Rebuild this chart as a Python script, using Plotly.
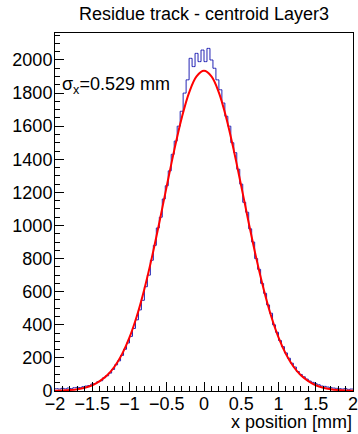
import plotly.graph_objects as go

# Histogram: 100 bins from -2 to 2 mm (bin width 0.04)
bin_lo = -2.0
bin_width = 0.04
counts = [
    14, 12, 16, 13, 18, 15, 20, 22, 21, 26,
    30, 33, 42, 45, 56, 62, 80, 92, 108, 130,
    158, 182, 215, 252, 290, 330, 378, 430, 490, 548,
    630, 700, 790, 880, 985, 1050, 1160, 1240, 1330, 1430,
    1510, 1600, 1690, 1800, 1880, 2010, 1960, 2040, 1990, 2060,
    1990, 2070, 2000, 1950, 1880, 1820, 1740, 1660, 1600, 1500,
    1440, 1340, 1250, 1140, 1080, 980, 900, 800, 735, 650,
    590, 520, 470, 400, 355, 305, 268, 230, 198, 168,
    145, 118, 100, 86, 72, 60, 52, 44, 38, 30,
    28, 24, 20, 18, 16, 14, 12, 14, 10, 12,
]

# Fit curve
fit_x = [-2.0, -1.9, -1.8, -1.7, -1.6, -1.5, -1.4, -1.3, -1.2, -1.1, -1.0,
         -0.9, -0.8, -0.7, -0.6, -0.5, -0.4, -0.3, -0.2, -0.1, 0.0,
         0.1, 0.2, 0.3, 0.4, 0.5, 0.6, 0.7, 0.8, 0.9, 1.0,
         1.1, 1.2, 1.3, 1.4, 1.5, 1.6, 1.7, 1.8, 1.9, 2.0]
fit_y = [1.5, 3, 6, 11, 20, 35, 60, 95, 148, 223, 324,
         455, 617, 806, 1017, 1238, 1454, 1648, 1803, 1901, 1935,
         1901, 1803, 1648, 1454, 1238, 1017, 806, 617, 455, 324,
         223, 148, 95, 60, 35, 20, 11, 6, 3, 1.5]

title_text = "Residue track - centroid Layer3"
x_title = "x position [mm]"
stat_text = "σ<sub>x</sub>=0.529 mm"
x_ticks = [-2, -1.5, -1, -0.5, 0, 0.5, 1, 1.5, 2]
x_ticklabels = ["−2", "−1.5", "−1", "−0.5", "0", "0.5", "1", "1.5", "2"]
y_ticks = [0, 200, 400, 600, 800, 1000, 1200, 1400, 1600, 1800, 2000]

centers = [bin_lo + bin_width * (i + 0.5) for i in range(len(counts))]
hx = [bin_lo] + centers + [bin_lo + bin_width * len(counts)]
hy = [counts[0]] + counts + [counts[-1]]

FONT = "Liberation Sans, Arial, sans-serif"
FS = 18

fig = go.Figure()
fig.add_trace(go.Scatter(
    x=hx, y=hy, mode="lines", line=dict(shape="hvh", color="#2424b4", width=1),
    hoverinfo="skip", showlegend=False))
fig.add_trace(go.Scatter(
    x=fit_x, y=fit_y, mode="lines", line=dict(shape="spline", color="#ff0000", width=2),
    hoverinfo="skip", showlegend=False))

fig.update_layout(
    width=358, height=434,
    margin=dict(l=55, r=5, t=33, b=43, autoexpand=False),
    paper_bgcolor="white", plot_bgcolor="white",
    font=dict(family=FONT, size=FS, color="black"),
    showlegend=False,
)
fig.update_xaxes(
    range=[-2, 2], tickvals=x_ticks, ticktext=x_ticklabels,
    ticks="inside", ticklen=9, tickwidth=1, tickcolor="black",
    minor=dict(ticks="inside", ticklen=5, dtick=0.1, tickcolor="black", tickwidth=1),
    showline=True, linecolor="black", linewidth=1, mirror=True,
    showgrid=False, zeroline=False, tickfont=dict(size=FS), automargin=False,
    ticklabelstandoff=-4, ticklabeloverflow="allow",
)
fig.update_yaxes(
    range=[0, 2163], tickvals=y_ticks,
    ticks="inside", ticklen=9, tickwidth=1, tickcolor="black",
    minor=dict(ticks="inside", ticklen=5, dtick=50, tickcolor="black", tickwidth=1),
    showline=True, linecolor="black", linewidth=1, mirror=True,
    showgrid=False, zeroline=False, tickfont=dict(size=FS), automargin=False,
    ticklabelstandoff=-2, ticklabeloverflow="allow",
)
fig.add_annotation(text=title_text, xref="paper", yref="paper", x=0.5, y=1.053,
                   xanchor="center", yanchor="middle", showarrow=False, font=dict(size=FS))
fig.add_annotation(text=x_title, xref="paper", yref="paper", x=1.003, y=-0.0866,
                   xanchor="right", yanchor="middle", showarrow=False, font=dict(size=FS))
fig.add_annotation(text=stat_text, xref="paper", yref="paper", x=0.017, y=0.852,
                   xanchor="left", yanchor="middle", showarrow=False, font=dict(size=FS))

fig.write_html("out.html", config={"displayModeBar": False},
               post_script="document.body.style.margin='0';document.body.style.padding='0';")
